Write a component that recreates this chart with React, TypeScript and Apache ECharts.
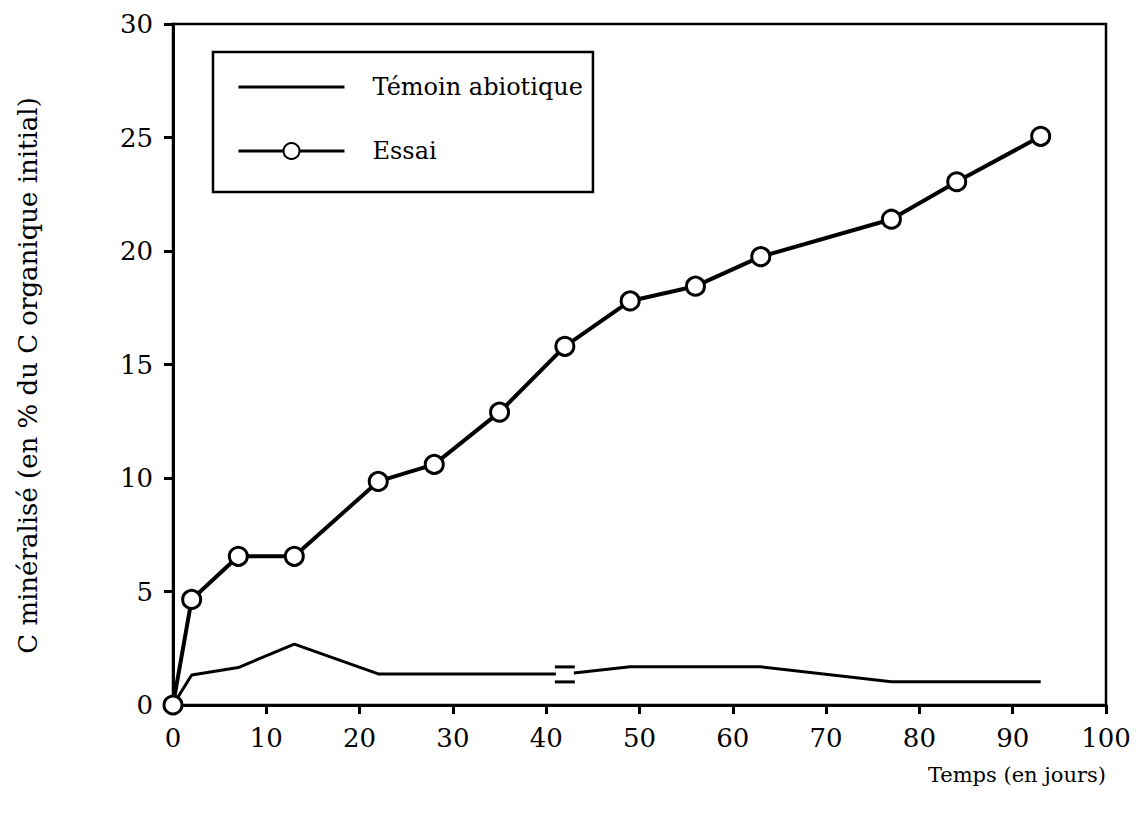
import React, { useEffect, useRef } from "react";
import * as echarts from "echarts";

const essaiDays = [0, 2, 7, 13, 22, 28, 35, 42, 49, 56, 63, 77, 84, 93];
const essaiValues = [0, 4.65, 6.55, 6.55, 9.85, 10.6, 12.9, 15.8, 17.8, 18.45, 19.75, 21.4, 23.05, 25.05];
const temoinDays = [0, 2, 7, 13, 22, 42, 49, 63, 77, 93];
const temoinValues = [0, 1.32, 1.65, 2.68, 1.37, 1.37, 1.68, 1.68, 1.02, 1.02];
const breakMark = [42, 1.37];
const xTicks = [0, 10, 20, 30, 40, 50, 60, 70, 80, 90, 100];
const yTicks = [0, 5, 10, 15, 20, 25, 30];

const FONT = "'DejaVu Serif', 'Liberation Serif', serif";

export default function App() {
  const ref = useRef<HTMLDivElement>(null);
  useEffect(() => {
    if (!ref.current) return;
    const chart = echarts.init(ref.current, undefined, { renderer: "svg" });
    chart.setOption({
      animation: false,
      backgroundColor: "#fff",
      grid: {
        left: 173,
        right: 40,
        top: 24,
        bottom: 117,
        show: true,
        borderColor: "#000",
        borderWidth: 2.5,
      },
      legend: {
        left: 213,
        top: 52,
        orient: "vertical",
        backgroundColor: "#fff",
        borderColor: "#000",
        borderWidth: 2.5,
        padding: [23, 10, 29, 24],
        itemWidth: 106,
        itemHeight: 20,
        itemGap: 40,
        lineStyle: { width: 3, color: "#000" },
        textStyle: { fontFamily: FONT, fontSize: 24, color: "#000", padding: [0, 0, 0, 23] },
        data: [
          { name: "Témoin abiotique", itemStyle: { opacity: 0 } },
          { name: "Essai" },
        ],
      },
      xAxis: {
        type: "value",
        min: 0,
        max: 100,
        interval: 10,
        axisLine: { lineStyle: { color: "#000", width: 3 } },
        axisTick: { length: 9, lineStyle: { color: "#000", width: 3 } },
        axisLabel: {
          fontFamily: FONT,
          fontSize: 26,
          color: "#000",
          margin: 20,
          formatter: (v: number) => (xTicks.includes(v) ? String(v) : ""),
        },
        splitLine: { show: false },
      },
      yAxis: {
        type: "value",
        min: 0,
        max: 30,
        interval: 5,
        name: "C minéralisé (en % du C organique initial)",
        nameLocation: "middle",
        nameGap: 132,
        nameTextStyle: { fontFamily: FONT, fontSize: 26, color: "#000", padding: [0, 22, 0, 0] },
        axisLine: { lineStyle: { color: "#000", width: 3 } },
        axisTick: { length: 9, lineStyle: { color: "#000", width: 3 } },
        axisLabel: {
          fontFamily: FONT,
          fontSize: 26,
          color: "#000",
          margin: 20,
          formatter: (v: number) => (yTicks.includes(v) ? String(v) : ""),
        },
        splitLine: { show: false },
      },
      graphic: [
        {
          type: "text",
          right: 40,
          top: 764,
          style: { text: "Temps (en jours)", font: `21px ${FONT}`, fill: "#000" },
        },
      ],
      series: [
        {
          name: "Témoin abiotique",
          type: "line",
          symbol: "none",
          clip: false,
          lineStyle: { color: "#000", width: 3 },
          itemStyle: { color: "#000" },
          data: temoinDays.map((d, i) => [d, temoinValues[i]]),
          z: 2,
        },
        {
          name: "Essai",
          type: "line",
          symbol: "circle",
          symbolSize: 18,
          clip: false,
          lineStyle: { color: "#000", width: 4 },
          itemStyle: { color: "#fff", borderColor: "#000", borderWidth: 3 },
          data: essaiDays.map((d, i) => [d, essaiValues[i]]),
          z: 3,
        },
        {
          name: "break",
          type: "custom",
          silent: true,
          clip: false,
          data: [breakMark],
          renderItem: (params: any, api: any) => {
            const p = api.coord([api.value(0), api.value(1)]);
            return {
              type: "group",
              children: [
                {
                  type: "rect",
                  shape: { x: p[0] - 9, y: p[1] - 5, width: 18, height: 10 },
                  style: { fill: "#fff" },
                },
                {
                  type: "line",
                  shape: { x1: p[0] - 10, y1: p[1] - 7, x2: p[0] + 10, y2: p[1] - 7 },
                  style: { stroke: "#000", lineWidth: 3 },
                },
                {
                  type: "line",
                  shape: { x1: p[0] - 10, y1: p[1] + 8, x2: p[0] + 10, y2: p[1] + 8 },
                  style: { stroke: "#000", lineWidth: 3 },
                },
              ],
            };
          },
          z: 4,
        },
      ],
    });
    return () => chart.dispose();
  }, []);
  return (
    <div
      ref={ref}
      style={{ position: "fixed", left: 0, top: 0, width: 1146, height: 822 }}
    />
  );
}
